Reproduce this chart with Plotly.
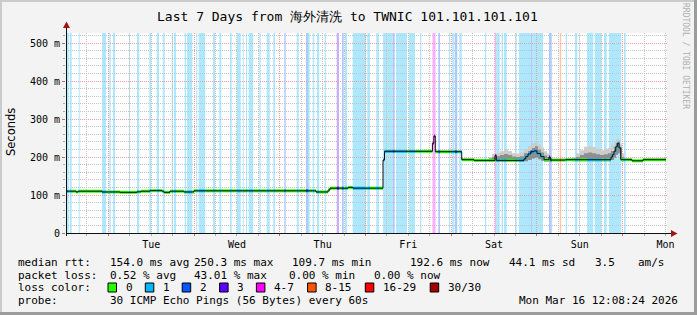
import plotly.graph_objects as go

# ---------------- data (time = hours since graph start, Mon 9 Mar 12:08:24) -------------
day_tick_hours = [23.86, 47.86, 71.86, 95.86, 119.86, 143.86, 167.86]
day_tick_labels = ["Tue", "Wed", "Thu", "Fri", "Sat", "Sun", "Mon"]
midnight_hours = [11.86, 35.86, 59.86, 83.86, 107.86, 131.86, 155.86]

y_tick_vals = [0, 100, 200, 300, 400, 500]
y_tick_text = ["0", "100 m", "200 m", "300 m", "400 m", "500 m"]

# median rtt in ms (step series)
med_t = [0.0, 2.8, 3.4, 10.1, 15.1, 19.9, 21.0, 23.5, 26.9, 27.4, 29.1, 33.0, 35.8,
         70.0, 73.4, 73.9, 79.0, 80.3, 88.76, 89.18, 102.6, 103.0, 103.4, 110.8,
         114.24, 120.12, 120.48, 127.4, 128.24, 128.72, 129.36, 130.12, 131.04, 131.88,
         132.92, 133.84, 135.24, 135.6, 139.9, 152.04, 152.6, 153.0, 153.44, 153.92,
         154.36, 154.84, 155.32, 158.48, 161.56, 168.0]
med_v = [110, 108, 110, 108, 107, 108.5, 110, 111.5, 110, 107, 110, 108, 111,
         108, 113, 118, 120, 118, 192, 215, 236, 255, 214, 193,
         191, 204, 191, 191, 195, 201, 208, 214, 216, 209,
         201, 193, 200, 192, 193, 193, 200, 206, 215, 227,
         236, 224, 193, 190, 193, 193]

# smoke (spread of the 30 pings), Saturday and Sunday
sat_t = [118.44, 119.28, 120.40, 121.52, 122.64, 123.76, 124.88, 126.00, 127.12, 128.24,
         129.36, 130.48, 131.32, 132.16, 133.00, 133.84, 134.68, 135.52, 136.08]
sat_lo = [188, 188, 188, 188, 188, 188, 188, 188, 188, 189, 192, 196, 198, 194, 190, 188, 188, 188, 188]
sat_mid = [196, 200, 202, 205, 208, 205, 201, 200, 202, 210, 216, 224, 228, 220, 212, 204, 200, 198, 193]
sat_hi = [200, 208, 210, 215, 221, 216, 210, 209, 212, 222, 228, 236, 240, 232, 225, 215, 209, 205, 193]

sun_t = [141.68, 142.80, 143.92, 145.04, 146.16, 147.28, 148.40, 149.52, 150.64, 151.76,
         152.60, 153.44, 154.00, 154.56, 155.12, 155.68, 156.24]
sun_lo = [189, 189, 189, 189, 189, 189, 189, 189, 189, 189, 192, 198, 205, 210, 195, 189, 189]
sun_mid = [196, 200, 205, 210, 212, 210, 207, 205, 207, 210, 216, 226, 236, 240, 225, 200, 193]
sun_hi = [200, 210, 218, 227, 228, 226, 222, 218, 222, 224, 232, 240, 246, 247, 235, 210, 195]

# loss periods (background bars): start hour, end hour, loss class
stripe_start = [0.28, 1.04, 3.56, 10.08, 12.12, 13.16, 17.64, 19.88, 23.32, 25.40, 27.08,
                29.60, 30.24, 33.24, 33.88, 36.48, 37.16, 41.16, 42.92, 45.92, 47.80, 49.48,
                50.40, 51.16, 54.12, 56.20, 58.04, 61.12, 64.60, 67.20, 67.76, 69.08, 70.28,
                72.44, 75.80, 77.28, 78.12, 80.28, 84.36, 86.88, 88.76, 91.48, 92.40, 96.04,
                99.12, 102.62, 104.24, 107.24, 108.16, 108.84, 110.12, 117.32, 120.12, 120.48,
                121.96, 122.64, 125.80, 126.84, 130.12, 130.56, 135.24, 138.24, 139.92, 142.52,
                143.64, 145.88, 148.04, 150.64, 152.04, 156.24]
stripe_end = [0.76, 1.60, 3.84, 11.20, 12.52, 13.72, 17.92, 20.52, 23.88, 26.04, 27.64,
              29.96, 30.80, 33.60, 35.36, 36.76, 39.00, 41.72, 43.48, 46.40, 48.92, 49.76,
              50.68, 52.44, 54.52, 57.04, 58.52, 61.52, 65.16, 67.76, 68.24, 69.52, 70.92,
              72.80, 76.44, 77.76, 78.68, 84.00, 85.12, 87.64, 91.48, 92.04, 95.48, 97.72,
              99.48, 103.46, 104.72, 107.60, 108.64, 109.56, 110.80, 117.68, 120.48, 121.44,
              122.36, 123.40, 126.20, 130.12, 130.56, 133.56, 136.00, 138.68, 140.28, 143.16,
              143.84, 147.64, 150.00, 151.40, 155.48, 156.72]
stripe_class = [1, 1, 1, 1, 1, 1, 1, 1, 1, 1, 1,
                1, 1, 1, 1, 1, 1, 1, 1, 1, 1, 1,
                1, 1, 1, 1, 1, 2, 1, 2, 1, 1, 1,
                1, 3, 2, 1, 1, 1, 1, 1, 2, 1, 1,
                1, 4, 2, 1, 1, 2, 1, 1, 4, 1,
                1, 1, 1, 1, 2, 1, 2, 8, 1, 1,
                1, 1, 1, 1, 1, 1]

loss_labels = ["0", "1", "2", "3", "4-7", "8-15", "16-29", "30/30"]
loss_keys = [0, 1, 2, 3, 4, 8, 16, 30]
loss_colors = ["#26ff00", "#00b8ff", "#0059ff", "#5e00ff", "#ff00ff", "#ff5500", "#ff0000", "#a10000"]

# ---------------- helpers for layout ----------------
W, H = 697, 315
L, R, T, B = 66, 30, 33, 82
PW, PH = W - L - R, H - T - B
X_MAX = PW * 0.28
Y_MAX = PH / 0.38


def px(x):
    return (x - L) / PW


def py(y):
    return (T + PH - y) / PH


def lighten(hexc, a=0.32):
    r, g, b = int(hexc[1:3], 16), int(hexc[3:5], 16), int(hexc[5:7], 16)
    f = lambda c: int(round(255 - (255 - c) * a))
    return "#%02x%02x%02x" % (f(r), f(g), f(b))


color_of = dict(zip(loss_keys, loss_colors))

fig = go.Figure()

# background loss bars
shapes = []
for s, e, c in zip(stripe_start, stripe_end, stripe_class):
    shapes.append(dict(type="rect", xref="x", yref="paper", x0=s, x1=e, y0=0, y1=1,
                       fillcolor=lighten(color_of[c]), line=dict(width=0), layer="below"))

# smoke
for tt, lo, mid, hi in [(sat_t, sat_lo, sat_mid, sat_hi), (sun_t, sun_lo, sun_mid, sun_hi)]:
    fig.add_trace(go.Scatter(x=tt, y=lo, mode="lines", line=dict(width=0, shape="hv"),
                             hoverinfo="skip", showlegend=False))
    fig.add_trace(go.Scatter(x=tt, y=hi, mode="lines", line=dict(width=0, shape="hv"),
                             fill="tonexty", fillcolor="#cccccc", hoverinfo="skip", showlegend=False))
    fig.add_trace(go.Scatter(x=tt, y=lo, mode="lines", line=dict(width=0, shape="hv"),
                             hoverinfo="skip", showlegend=False))
    fig.add_trace(go.Scatter(x=tt, y=mid, mode="lines", line=dict(width=0, shape="hv"),
                             fill="tonexty", fillcolor="#8f8f8f", hoverinfo="skip", showlegend=False))

# thin black median (gives the vertical transitions)
fig.add_trace(go.Scatter(x=med_t, y=med_v, mode="lines", xaxis="x2",
                         line=dict(color="#111111", width=1, shape="hv"),
                         hoverinfo="skip", showlegend=False))


def median_at(t):
    v = med_v[0]
    for tt, vv in zip(med_t, med_v):
        if tt <= t:
            v = vv
        else:
            break
    return v


def loss_at(t):
    for s, e, c in zip(stripe_start, stripe_end, stripe_class):
        if s <= t < e:
            return c
    return 0


bps = sorted(set([t for t in med_t + stripe_start + stripe_end if 0 <= t <= med_t[-1]]))
segs = {}
for a, b in zip(bps[:-1], bps[1:]):
    m = (a + b) / 2
    c = loss_at(m)
    v = median_at(m)
    xs, ys = segs.setdefault(c, ([], []))
    xs += [a, b, None]
    ys += [v, v, None]

for c in loss_keys:
    if c in segs:
        xs, ys = segs[c]
        fig.add_trace(go.Scatter(x=xs, y=ys, mode="lines",
                                 line=dict(color=color_of[c], width=3),
                                 hoverinfo="skip", showlegend=False, connectgaps=False))

# axes lines and arrows (decoration)
AX = "#111111"
ARR = "#a01414"
shapes += [
    dict(type="line", xref="paper", yref="paper", x0=px(66), x1=px(672), y0=py(233.5), y1=py(233.5),
         line=dict(color=AX, width=1)),
    dict(type="line", xref="paper", yref="paper", x0=px(66.5), x1=px(66.5), y0=py(236), y1=py(28),
         line=dict(color=AX, width=1)),
    dict(type="path", xref="paper", yref="paper",
         path="M %f %f L %f %f L %f %f Z" % (px(677.5), py(233.5), px(671), py(230), px(671), py(237)),
         fillcolor=ARR, line=dict(width=0)),
    dict(type="path", xref="paper", yref="paper",
         path="M %f %f L %f %f L %f %f Z" % (px(66.5), py(21.5), px(63), py(28), px(70), py(28)),
         fillcolor=ARR, line=dict(width=0)),
    # frame
    dict(type="rect", xref="paper", yref="paper", x0=px(0), x1=px(2), y0=py(315), y1=py(0),
         fillcolor="#cbcbcb", line=dict(width=0)),
    dict(type="rect", xref="paper", yref="paper", x0=px(0), x1=px(697), y0=py(2), y1=py(0),
         fillcolor="#cbcbcb", line=dict(width=0)),
    dict(type="rect", xref="paper", yref="paper", x0=px(694), x1=px(697), y0=py(315), y1=py(0),
         fillcolor="#9c9c9c", line=dict(width=0)),
    dict(type="rect", xref="paper", yref="paper", x0=px(0), x1=px(697), y0=py(315), y1=py(312),
         fillcolor="#9c9c9c", line=dict(width=0)),
]

MONO = "DejaVu Sans Mono"
FS = 11
ann = []


def txt(x, y, s, anchor="left", size=FS, color="#000000", family=MONO, angle=0):
    ann.append(dict(text=s, x=px(x), y=py(y), xref="paper", yref="paper", showarrow=False,
                    xanchor=anchor, yanchor="middle", textangle=angle,
                    font=dict(family=family, size=size, color=color)))


txt(347.5, 16, "Last 7 Days from 海外清洗 to TWNIC 101.101.101.101", anchor="center", size=13)
txt(11, 132, "Seconds", anchor="center", family="DejaVu Sans", size=11.5, angle=-90)
txt(686, 56, "RRDTOOL / TOBI OETIKER", anchor="center", size=8, color="#b0b0b0", angle=90)

ROW = [262.5, 275, 287.5, 300]
txt(16, ROW[0], "median rtt:")
for x, s in [(107.6, "154.0 ms avg"), (192.4, "250.3 ms max"), (290.2, "109.7 ms min"),
             (408, "192.6 ms now"), (507, "44.1 ms sd"), (593, "3.5"), (636.4, "am/s")]:
    txt(x, ROW[0], s)
txt(16, ROW[1], "packet loss:")
for x, s in [(107.6, "0.52 % avg"), (192.4, "43.01 % max"), (286.7, "0.00 % min"), (372.4, "0.00 % now")]:
    txt(x, ROW[1], s)
txt(16, ROW[2], "loss color:")
box_x = [108, 145.3, 182.2, 219.6, 256.4, 307.6, 365.3, 430.2]
for bx, lab, col in zip(box_x, loss_labels, loss_colors):
    shapes.append(dict(type="rect", xref="paper", yref="paper", x0=px(bx), x1=px(bx + 8.5),
                       y0=py(ROW[2] + 4.5), y1=py(ROW[2] - 4.5), fillcolor=col,
                       line=dict(color="#000000", width=1)))
    txt(bx + 15.5, ROW[2], lab)
txt(16, ROW[3], "probe:")
txt(107.6, ROW[3], "30 ICMP Echo Pings (56 Bytes) every 60s")
txt(680, ROW[3], "Mon Mar 16 12:08:24 2026", anchor="right")

MINOR_GRID = "#c4c4c4"
MAJOR_GRID = "#e8a0a0"
DASH = "1px,1px"

fig.update_layout(
    width=W, height=H,
    margin=dict(l=L, r=R, t=T, b=B, pad=0),
    paper_bgcolor="#f3f3f3", plot_bgcolor="#ffffff",
    showlegend=False,
    shapes=shapes, annotations=ann,
    xaxis=dict(range=[0, X_MAX], tickvals=day_tick_hours, ticktext=day_tick_labels,
               showgrid=True, gridcolor=MINOR_GRID, griddash=DASH, gridwidth=1,
               zeroline=False, showline=False, ticks="outside", ticklen=2, tickcolor="#aaaaaa",
               tickfont=dict(family=MONO, size=10, color="#000000"),
               minor=dict(tick0=-0.14, dtick=6, showgrid=True, gridcolor=MINOR_GRID,
                          griddash=DASH, ticks="outside", ticklen=2, tickcolor="#aaaaaa"),
               fixedrange=True),
    xaxis2=dict(range=[0, X_MAX], overlaying="x", side="bottom", tickvals=midnight_hours,
                showticklabels=False, showgrid=True, gridcolor=MAJOR_GRID, griddash=DASH,
                zeroline=False, showline=False, ticks="outside", ticklen=2, tickcolor="#e06060"),
    yaxis=dict(range=[0, Y_MAX], tickvals=y_tick_vals, ticktext=y_tick_text,
               showgrid=True, gridcolor=MAJOR_GRID, griddash=DASH, zeroline=False, showline=False,
               ticks="outside", ticklen=3, tickcolor="#e06060",
               tickfont=dict(family=MONO, size=10, color="#000000"),
               minor=dict(dtick=20, showgrid=True, gridcolor=MINOR_GRID, griddash=DASH,
                          ticks="outside", ticklen=2, tickcolor="#aaaaaa"),
               fixedrange=True),
)

fig.write_html("out.html")
